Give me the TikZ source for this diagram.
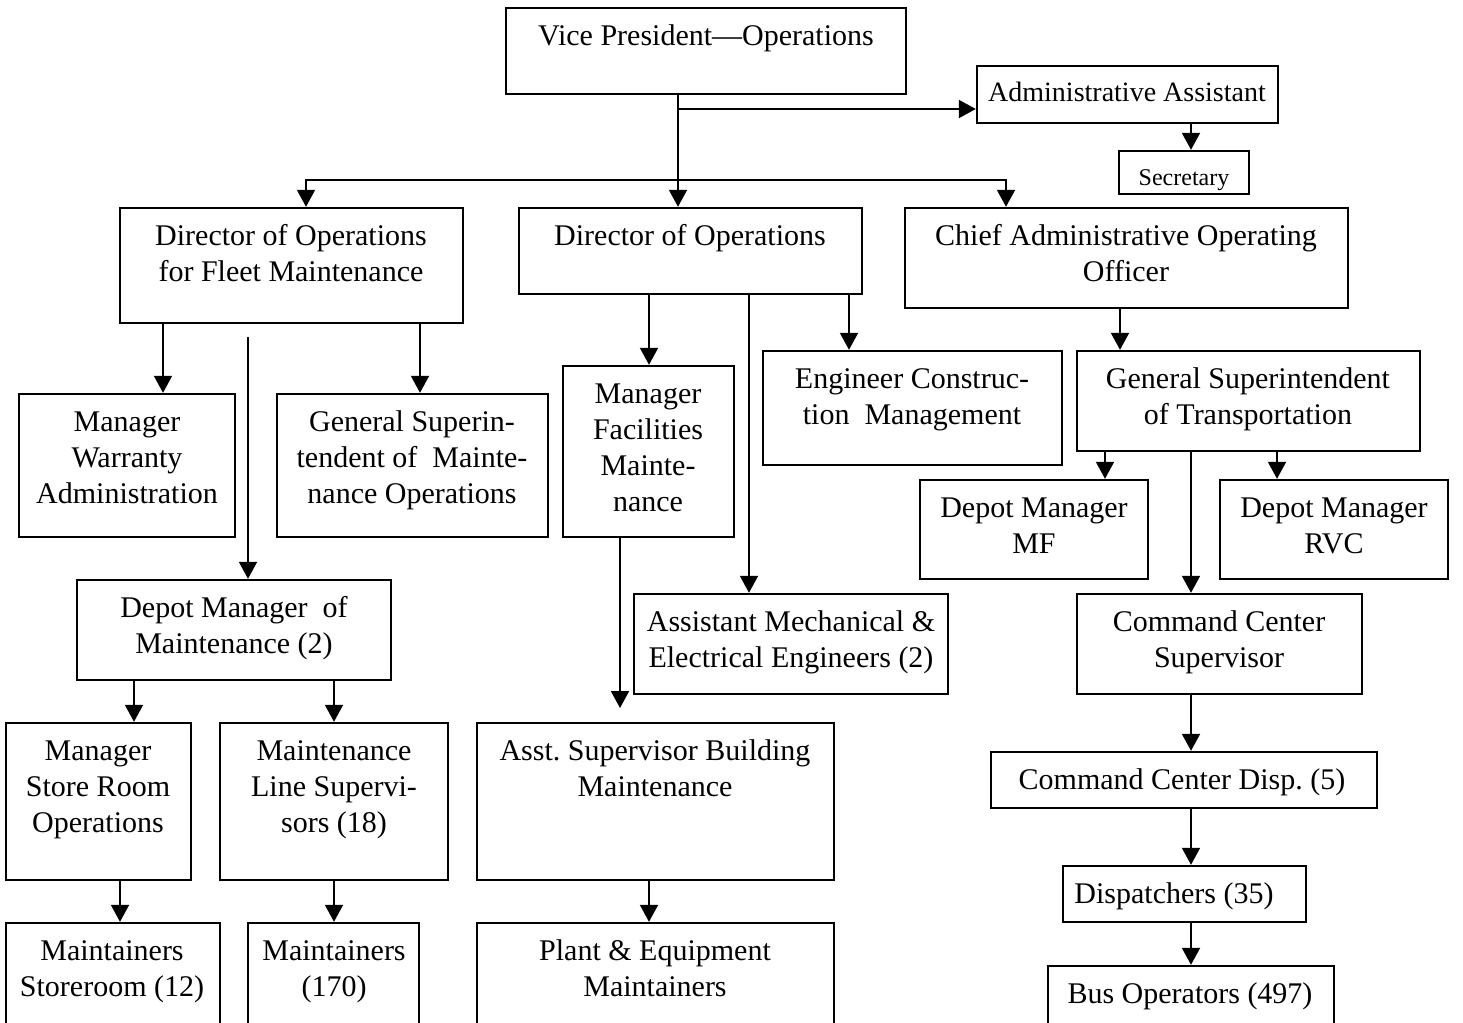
\documentclass[tikz,border=0pt]{standalone}
\usepackage{fontspec}
\setmainfont{Liberation Serif}
\usetikzlibrary{arrows.meta,fit}

% multi-line centred title whose baseline is that of its first line
\newcommand\ttl[1]{\begin{tabular}[t]{@{}c@{}}#1\end{tabular}}
% vertical arrow from the bottom of one box to the top of another, at a given x
\newcommand\downlink[3]{\coordinate (dl) at (#3,0); \draw[arr] (#1.south -| dl) -- (#2.north -| dl);}

\tikzset{
  box/.style={draw, line width=1.2pt, inner sep=0pt, fit={#1}},
  lbl/.style={anchor=base, inner sep=0pt, font=\fontsize{15}{18}\selectfont},
  arr/.style={line width=1pt, -{Triangle[width=9pt,length=8.5pt]}},
}

\begin{document}
\begin{tikzpicture}[x=0.5pt, y=-0.5pt]
\useasboundingbox (0,0) rectangle (1463,1023);
\clip (0,0) rectangle (1463,1023);

% ---- top level
\node[box={(506,8) (906,94)}] (vp) {};
\node[lbl] (vp-t) at (706,45) {\ttl{Vice President—Operations}};
\node[box={(977,66) (1278,123)}] (admin) {};
\node[lbl, font=\fontsize{14}{18}\selectfont] (admin-t) at (1127,101) {\ttl{Administrative Assistant}};
\node[box={(1119,151) (1249,194)}] (secr) {};
\node[lbl, font=\fontsize{12}{14}\selectfont] (secr-t) at (1184,185) {\ttl{Secretary}};

% ---- directors
\node[box={(120,208) (463,323)}] (dirfleet) {};
\node[lbl] (dirfleet-t) at (291,245) {\ttl{Director of Operations\\for Fleet Maintenance}};
\node[box={(519,208) (862,294)}] (dirops) {};
\node[lbl] (dirops-t) at (690,245) {\ttl{Director of Operations}};
\node[box={(905,208) (1348,308)}] (caoo) {};
\node[lbl] (caoo-t) at (1126,245) {\ttl{Chief Administrative Operating\\Officer}};

% ---- fleet maintenance branch
\node[box={(19,394) (235,537)}] (warranty) {};
\node[lbl] (warranty-t) at (127,431) {\ttl{Manager\\Warranty\\Administration}};
\node[box={(277,394) (548,537)}] (gensupm) {};
\node[lbl] (gensupm-t) at (412,431) {\ttl{General Superin-\\tendent of\ \ Mainte-\\nance Operations}};
\node[box={(77,580) (391,680)}] (depotmaint) {};
\node[lbl] (depotmaint-t) at (234,617) {\ttl{Depot Manager\ \ of\\Maintenance (2)}};
\node[box={(6,723) (191,880)}] (store) {};
\node[lbl] (store-t) at (98,760) {\ttl{Manager\\Store Room\\Operations}};
\node[box={(220,723) (448,880)}] (linesup) {};
\node[lbl] (linesup-t) at (334,760) {\ttl{Maintenance\\Line Supervi-\\sors (18)}};
\node[box={(6,923) (220,1040)}] (mstore) {};
\node[lbl] (mstore-t) at (112,960) {\ttl{Maintainers\\Storeroom (12)}};
\node[box={(248,923) (419,1040)}] (m170) {};
\node[lbl] (m170-t) at (334,960) {\ttl{Maintainers\\(170)}};

% ---- operations branch
\node[box={(563,366) (734,537)}] (mgrfac) {};
\node[lbl] (mgrfac-t) at (648,403) {\ttl{Manager\\Facilities\\Mainte-\\nance}};
\node[box={(763,351) (1062,465)}] (engcon) {};
\node[lbl] (engcon-t) at (912,388) {\ttl{Engineer Construc-\\tion\ \ Management}};
\node[box={(634,594) (948,694)}] (mecheng) {};
\node[lbl] (mecheng-t) at (791,631) {\ttl{Assistant Mechanical \&\\Electrical Engineers (2)}};
\node[box={(477,723) (834,880)}] (bldg) {};
\node[lbl] (bldg-t) at (655,760) {\ttl{Asst.\ Supervisor Building\\Maintenance}};
\node[box={(477,923) (834,1040)}] (plant) {};
\node[lbl] (plant-t) at (655,960) {\ttl{Plant \& Equipment\\Maintainers}};

% ---- transportation branch
\node[box={(1077,351) (1420,451)}] (gensupt) {};
\node[lbl] (gensupt-t) at (1248,388) {\ttl{General Superintendent\\of Transportation}};
\node[box={(920,480) (1148,579)}] (depotmf) {};
\node[lbl] (depotmf-t) at (1034,517) {\ttl{Depot Manager\\MF}};
\node[box={(1220,480) (1448,579)}] (depotrvc) {};
\node[lbl] (depotrvc-t) at (1334,517) {\ttl{Depot Manager\\RVC}};
\node[box={(1077,594) (1362,694)}] (ccsup) {};
\node[lbl] (ccsup-t) at (1219,631) {\ttl{Command Center\\Supervisor}};
\node[box={(991,752) (1377,808)}] (ccdisp) {};
\node[lbl] (ccdisp-t) at (1182,789) {\ttl{Command Center Disp.\ (5)}};
\node[box={(1063,866) (1306,922)}] (disp) {};
\node[lbl] (disp-t) at (1174,903) {\ttl{Dispatchers (35)}};
\node[box={(1048,966) (1334,1040)}] (busop) {};
\node[lbl] (busop-t) at (1190,1003) {\ttl{Bus Operators (497)}};

% ---- connectors from the vice president
\downlink{vp}{dirops}{678}
\coordinate (vpj) at (678,109);
\draw[arr] (vpj) -- (vpj -| admin.west);
\coordinate (busL) at (306,180);
\coordinate (busR) at (1006,180);
\draw[line width=1pt, {Triangle[width=9pt,length=8.5pt]}-{Triangle[width=9pt,length=8.5pt]}]
  (busL |- dirfleet.north) -- (busL) -- (busR) -- (busR |- caoo.north);
\downlink{admin}{secr}{1191}

% ---- fleet maintenance connectors
\downlink{dirfleet}{warranty}{163}
\downlink{dirfleet}{gensupm}{420}
\coordinate (fleetdrop) at (248,337);
\draw[arr] (fleetdrop) -- (fleetdrop |- depotmaint.north);
\downlink{depotmaint}{store}{134}
\downlink{depotmaint}{linesup}{334}
\downlink{store}{mstore}{120}
\downlink{linesup}{m170}{334}

% ---- operations connectors
\downlink{dirops}{mgrfac}{649}
\downlink{dirops}{mecheng}{749}
\downlink{dirops}{engcon}{849}
\coordinate (facdrop) at (620,708);
\draw[arr] (mgrfac.south -| facdrop) -- (facdrop);
\downlink{bldg}{plant}{649}

% ---- transportation connectors
\downlink{caoo}{gensupt}{1120}
\downlink{gensupt}{depotmf}{1105}
\downlink{gensupt}{depotrvc}{1277}
\downlink{gensupt}{ccsup}{1191}
\downlink{ccsup}{ccdisp}{1191}
\downlink{ccdisp}{disp}{1191}
\downlink{disp}{busop}{1191}

\end{tikzpicture}
\end{document}
